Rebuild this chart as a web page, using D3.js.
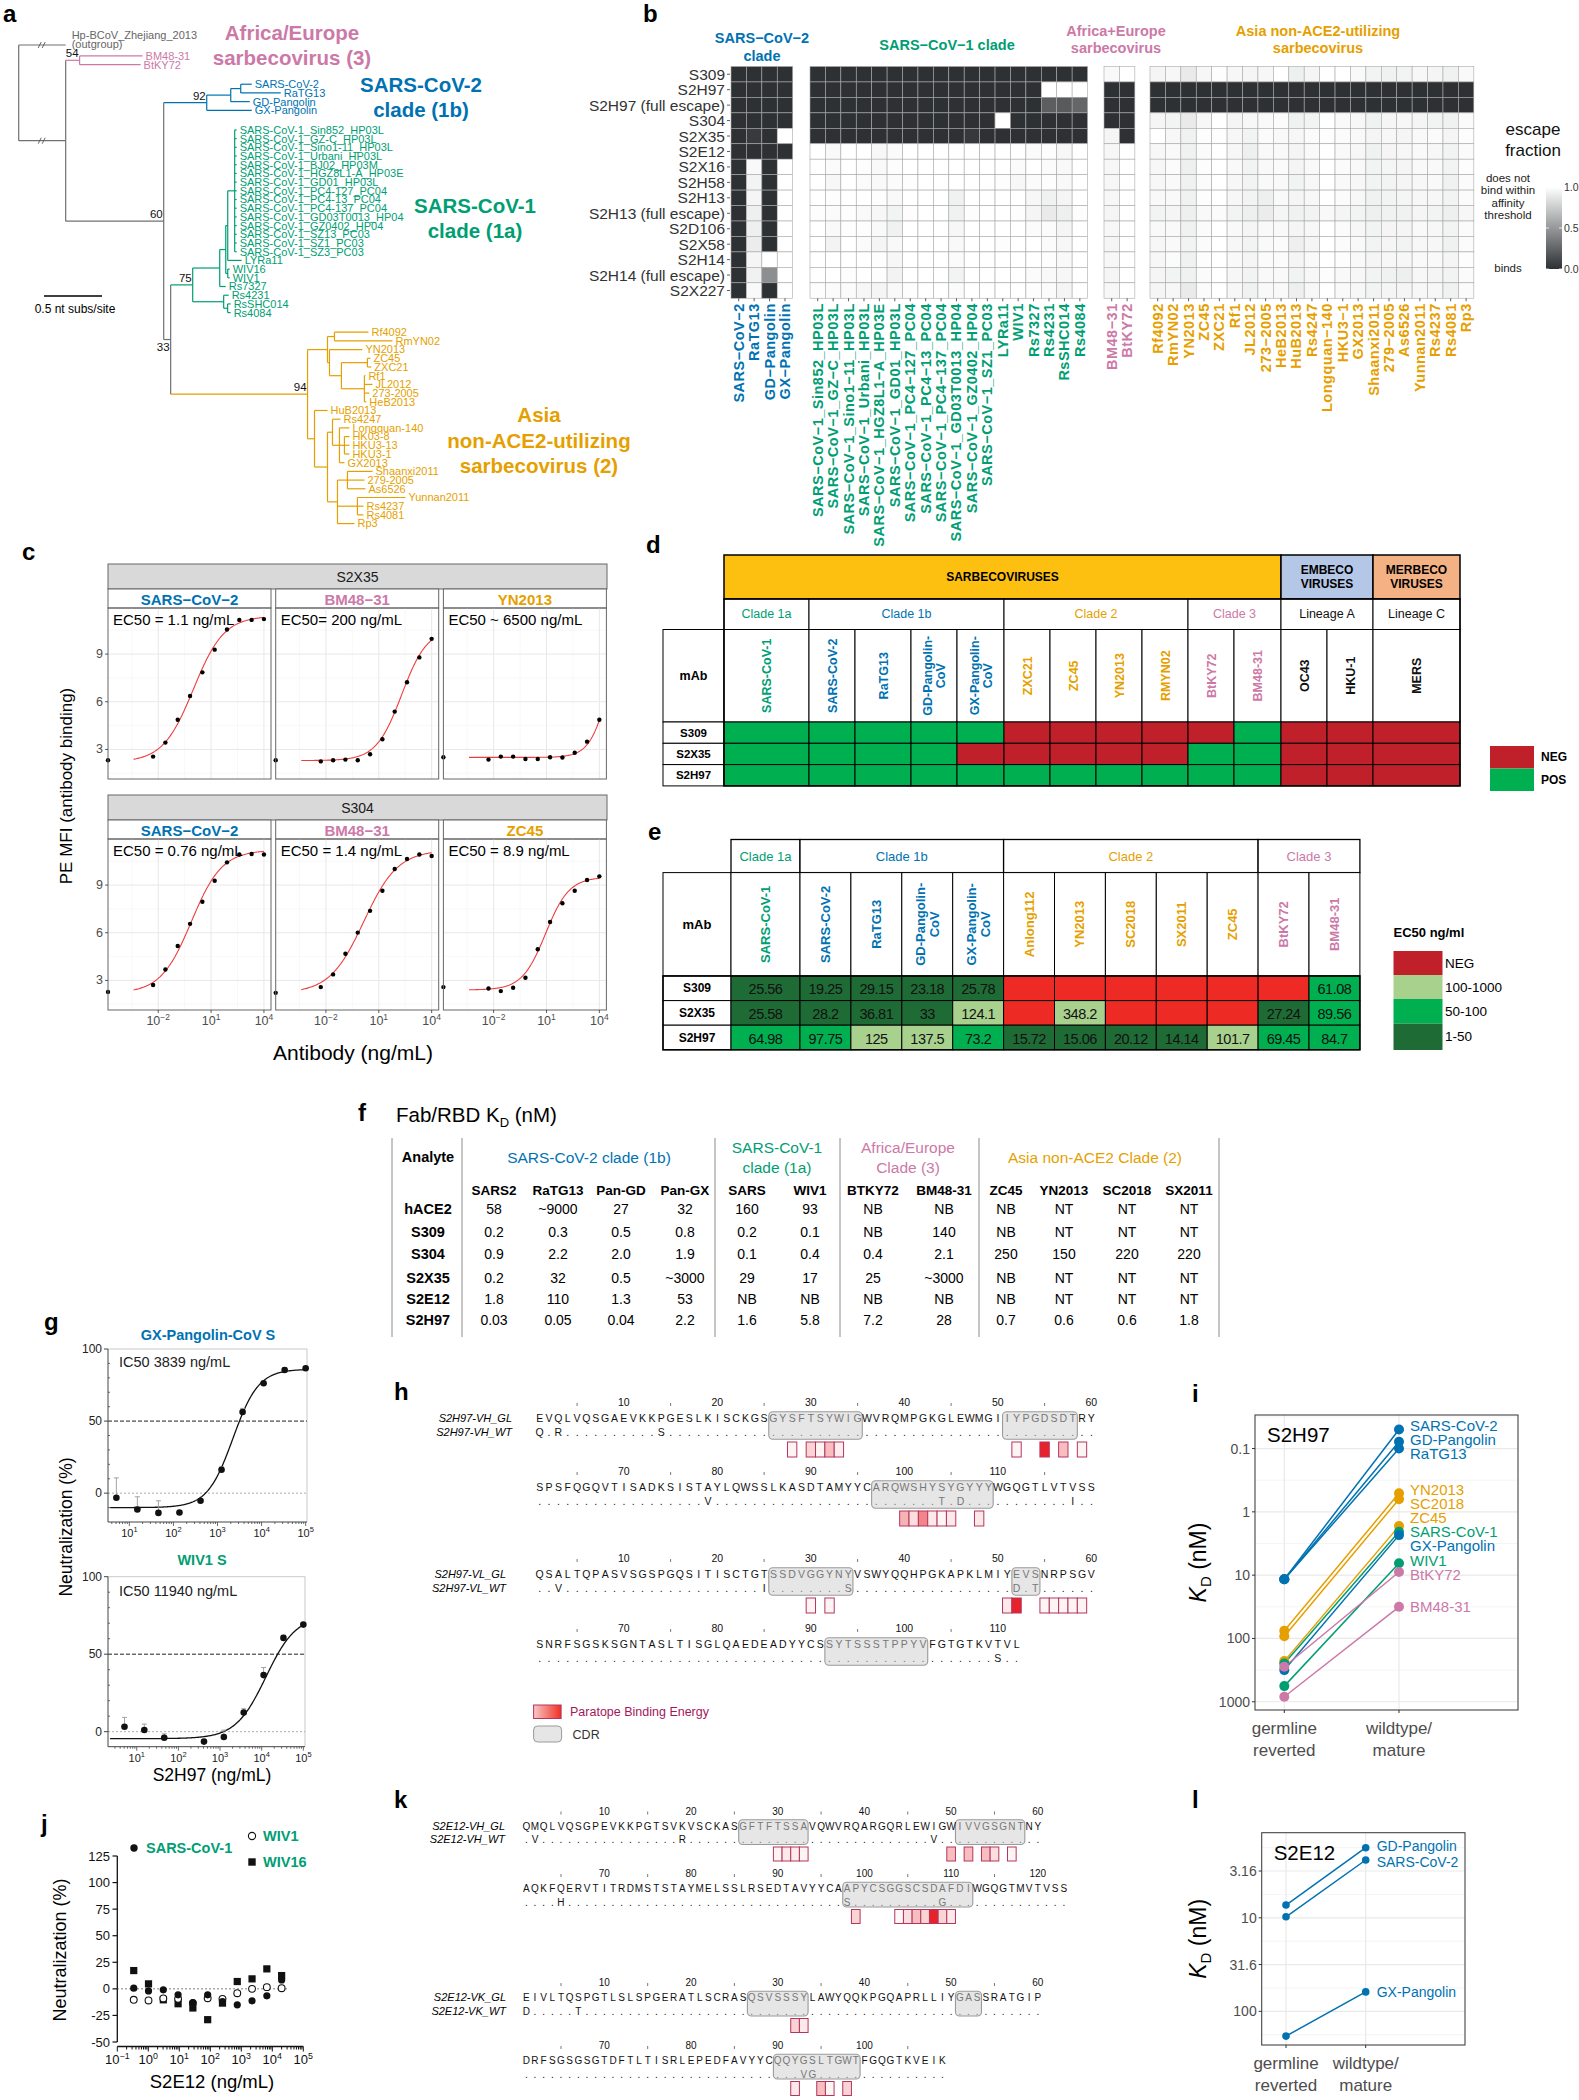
<!DOCTYPE html>
<html><head><meta charset="utf-8"><title>Sarbecovirus figure</title>
<script src="https://cdn.jsdelivr.net/npm/d3@7/dist/d3.min.js"></script>
<style>html,body{margin:0;padding:0;background:#fff}svg{display:block}</style>
</head><body>
<script>
// ======================= DATA =======================
// ---- a: phylogeny (branch lengths in nt subs/site, internal labels = bootstrap) ----
const treeNewick =
"(Hp-BCoV_Zhejiang_2013:0.405,((BM48-31:0.543,BtKY72:0.526)54:0.12,(" +
"(((SARS-CoV-2:0.095,RaTG13:0.345):0.086,GD-Pangolin:0.164):0.207,GX-Pangolin:0.388)92:0.371," +
"((((((SARS-CoV-1_Sin852_HP03L:0.017,SARS-CoV-1_GZ-C_HP03L:0.017,SARS-CoV-1_Sino1-11_HP03L:0.017,SARS-CoV-1_Urbani_HP03L:0.017,SARS-CoV-1_BJ02_HP03M:0.017,SARS-CoV-1_HGZ8L1-A_HP03E:0.017,SARS-CoV-1_GD01_HP03L:0.017,SARS-CoV-1_PC4-127_PC04:0.017,SARS-CoV-1_PC4-13_PC04:0.017,SARS-CoV-1_PC4-137_PC04:0.017,SARS-CoV-1_GD03T0013_HP04:0.017,SARS-CoV-1_GZ0402_HP04:0.017,SARS-CoV-1_SZ13_PC03:0.017,SARS-CoV-1_SZ1_PC03:0.017,SARS-CoV-1_SZ3_PC03:0.017):0.06,LYRa11:0.12):0.017,(WIV16:0.017,WIV1:0.017):0.017):0.052,Rs7327:0.052):0.233,(Rs4231:0.043,(RsSHC014:0.026,Rs4084:0.026):0.034):0.267)75:0.19," +
"(((Rf4092:0.293,RmYN02:0.5):0.06,(YN2013:0.284,((ZC45:0.026,ZXC21:0.034):0.224,(Rf1:0.009,JL2012:0.069,273-2005:0.043,HeB2013:0.017):0.198):0.103):0.017):0.172,(HuB2013:0.112,((Rs4247:0.069,(Longquan-140:0.086,(HK03-8:0.043,HKU3-13:0.043,HKU3-1:0.043):0.043,GX2013:0.043):0.06):0.043,((Shaanxi2011:0.216,279-2005:0.147,As6526:0.155):0.086,(Yunnan2011:0.414,Rs4237:0.052,Rs4081:0.052):0.172,Rp3:0.147):0.086):0.112):0.06)94:1.18" +
")33:0.06)60:0.845):0.405);";
const treeOutgroupNote = "(outgroup)";
const treeCladeText = [["Africa/Europe","sarbecovirus (3)"],["SARS-CoV-2","clade (1b)"],["SARS-CoV-1","clade (1a)"],["Asia","non-ACE2-utilizing","sarbecovirus (2)"]];
const treeScaleBar = 0.5;
const treeScaleText = "0.5 nt subs/site";

// ---- b: escape fraction heatmap ----
const bRows = ["S309","S2H97","S2H97 (full escape)","S304","S2X35","S2E12","S2X16","S2H58","S2H13","S2H13 (full escape)","S2D106","S2X58","S2H14","S2H14 (full escape)","S2X227"];
const bHeaders = [["SARS−CoV−2","clade"],["SARS−CoV−1 clade"],["Africa+Europe","sarbecovirus"],["Asia non-ACE2-utilizing","sarbecovirus"]];
const bColsG1 = ["SARS−CoV−2","RaTG13","GD−Pangolin","GX−Pangolin"];
const bColsG2 = ["SARS−CoV−1_Sin852_HP03L","SARS−CoV−1_GZ−C_HP03L","SARS−CoV−1_Sino1−11_HP03L","SARS−CoV−1_Urbani_HP03L","SARS−CoV−1_HGZ8L1−A_HP03E","SARS−CoV−1_GD01_HP03L","SARS−CoV−1_PC4−127_PC04","SARS−CoV−1_PC4−13_PC04","SARS−CoV−1_PC4−137_PC04","SARS−CoV−1_GD03T0013_HP04","SARS−CoV−1_GZ0402_HP04","SARS−CoV−1_SZ1_PC03","LYRa11","WIV1","Rs7327","Rs4231","RsSHC014","Rs4084"];
const bColsG3 = ["BM48−31","BtKY72"];
const bColsG4 = ["Rf4092","RmYN02","YN2013","ZC45","ZXC21","Rf1","JL2012","273−2005","HeB2013","HuB2013","Rs4247","Longquan−140","HKU3−1","GX2013","Shaanxi2011","279−2005","As6526","Yunnan2011","Rs4237","Rs4081","Rp3"];
const bEscG1 = [[0,0,0,0],[0,0,0,0],[0,0,0,0],[0,0,0,0],[0,.05,0,1],[0,0,0,0],[0,.97,0,1],[0,.94,0,1],[0,.95,0,1],[0,.92,0,1],[0,.92,0,1],[0,.91,0,1],[0,.95,1,1],[0,.93,.45,1],[0,.97,0,1]];
const bEscG2 = [
 [0,0,0,0,0,0,0,0,0,0,0,0,0,0,0,0,0,0],
 [0,0,0,0,0,0,0,0,0,0,0,0,0,0,0,1,1,1],
 [0,0,0,0,0,0,0,0,0,0,0,0,0,0,0,.22,.2,.26],
 [0,0,0,0,0,0,0,0,0,0,0,0,1,0,0,0,0,0],
 [0,0,0,0,0,0,0,0,0,0,.04,0,0,0,0,0,0,0],
 [1,.97,1,1,.96,.98,1,1,1,1,1,1,1,1,.98,.99,.96,1],
 [1,.98,1,.99,.97,.99,1,1,1,1,1,1,1,.98,1,.98,.97,1],
 [1,.96,1,.98,.97,.98,.99,1,1,1,1,1,.99,.96,.98,.99,.97,1],
 [1,.99,1,1,.99,.97,1,1,1,.93,1,1,1,1,.96,.93,.95,1],
 [.99,.98,.99,.97,.96,.94,.99,1,1,.93,.99,1,1,.99,.95,.9,.92,.99],
 [1,.97,.99,.99,.97,.93,1,1,1,.96,1,1,1,1,.98,.98,.95,1],
 [1,.94,1,.98,.95,.97,1,1,1,.97,1,1,.99,1,1,.98,.96,1],
 [1,1,1,1,.99,.96,1,1,1,.98,1,1,1,1,1,.99,.97,1],
 [1,1,.99,1,.99,.94,1,1,1,.94,1,1,1,1,.98,.97,.96,1],
 [.99,.98,.98,.96,.95,.97,.99,1,1,.98,1,1,1,1,.99,.98,.95,1]];
const bEscG3 = [[.97,1],[0,0],[0,0],[0,0],[.95,0],[.96,1],[.96,1],[.96,1],[.96,1],[.95,1],[.96,1],[.95,1],[.96,1],[.95,1],[.96,1]];
const bEscG4 = [
 [.95,.96,.9,.96,.99,.96,.95,.96,1,.92,.95,1,1,.97,.94,.93,.94,.96,.95,.93,.97],
 [0,0,0,0,0,0,0,0,0,0,0,0,0,0,0,0,0,0,0,0,0],
 [0,0,0,0,0,0,0,0,0,0,0,0,0,0,0,0,0,0,0,0,0],
 [.95,.94,.9,.96,1,.95,.96,.97,.98,.93,.94,1,.97,.96,.93,.95,.96,.95,.94,.93,.98],
 [1,.96,.93,.99,.99,.96,.94,.98,.97,.96,.98,.99,.98,.97,.95,.96,.95,.97,.98,.95,.99],
 [.96,.97,.93,.98,1,.96,.92,.97,.97,.95,.97,1,.97,.96,.93,.95,.96,.97,.96,.94,.98],
 [.96,.98,.92,.99,1,.97,.94,.97,.98,.95,.97,1,.98,.97,.94,.95,.95,.97,.97,.94,.99],
 [.96,.97,.93,.98,1,.96,.94,.97,.97,.94,.96,1,.97,.96,.94,.94,.95,.96,.97,.93,.98],
 [.97,.97,.93,.99,1,.96,.94,.92,.97,.95,.96,1,.98,.96,.93,.94,.95,.96,.96,.94,.98],
 [.94,.95,.92,.97,.98,.94,.92,.91,.95,.93,.94,.97,.95,.94,.92,.93,.93,.95,.94,.92,.96],
 [.97,.97,.93,.98,1,.97,.95,.97,.97,.95,.96,1,.98,.96,.94,.95,.95,.97,.96,.94,.98],
 [.96,.97,.94,.98,1,.96,.94,.97,.98,.92,.95,1,.98,.97,.94,.95,.94,.96,.96,.93,.98],
 [.96,.98,.93,.99,1,.97,.95,.98,.98,.95,.97,1,.99,.97,.95,.96,.96,.97,.97,.95,.99],
 [.95,.94,.93,.98,1,.96,.94,.97,.97,.94,.96,.99,.97,.96,.94,.93,.92,.96,.95,.94,.98],
 [.95,.96,.9,.98,1,.96,.93,.97,.97,.92,.96,1,.97,.96,.94,.95,.95,.96,.96,.93,.98]];
const bLegendTitle = ["escape","fraction"];
const bLegendTop = ["does not","bind within","affinity","threshold"];
const bLegendBottom = "binds";
const bLegendTicks = [1.0,0.5,0.0];

// ---- c: binding curves (PE MFI) ----
const cFacets = ["S2X35","S304"];
const cViruses = [["SARS−CoV−2","BM48−31","YN2013"],["SARS−CoV−2","BM48−31","ZC45"]];
const cVirusClade = [["1b","3","2"],["1b","3","2"]];
const cEC50Text = [["EC50 = 1.1 ng/mL","EC50= 200 ng/mL","EC50 ~ 6500 ng/mL"],["EC50 = 0.76 ng/mL","EC50 = 1.4 ng/mL","EC50 = 8.9 ng/mL"]];
const cConc = [0.00512,0.0256,0.128,0.64,3.2,16,80,400,2000,10000];
const cMFI = [
 [[2.55,3.43,4.87,6.36,7.85,9.28,10.55,11.15,11.15,11.2],[2.25,2.32,2.36,2.32,2.7,3.64,5.38,7.23,8.79,9.96],[2.36,2.55,2.55,2.4,2.4,2.51,2.49,2.79,3.49,4.87]],
 [[2.71,3.69,5.17,6.56,7.95,9.27,10.43,10.92,10.96,10.92],[2.58,3.38,4.68,6.01,7.38,8.64,10.01,10.64,10.92,10.83],[2.49,2.33,2.54,3.17,4.96,6.68,7.86,8.64,9.32,9.55]]];
const cMFIzero = [[2.32,2.32,2.51],[2.28,2.22,2.58]];
// fitted 4PL: [bottom, top, EC50 (ng/mL), hill]
const cFit = [[[2.2,11.4,1.0,0.5],[2.3,10.6,200,0.6],[2.5,11.2,35000,0.8]],[[2.2,11.2,0.76,0.5],[2.2,11.2,1.4,0.45],[2.4,9.5,8.9,0.65]]];
const cYTicks = [3,6,9];
const cXTicks = [-2,1,4];

// ---- d: binding (POS/NEG) table ----
const dVirus = ["SARS-CoV-1","SARS-CoV-2","RaTG13","GD-Pangolin-|CoV","GX-Pangolin-|CoV","ZXC21","ZC45","YN2013","RMYN02","BtKY72","BM48-31","OC43","HKU-1","MERS"];
const dVirusClade = ["1a","1b","1b","1b","1b","2","2","2","2","3","3","A","A","C"];
const dCladeName = {"1a":"Clade 1a","1b":"Clade 1b","2":"Clade 2","3":"Clade 3","A":"Lineage A","C":"Lineage C"};
const dGenus = ["SARBECOVIRUSES","EMBECO|VIRUSES","MERBECO|VIRUSES"];
const dGenusCount = [11,2,1];
const dMabs = ["S309","S2X35","S2H97"];
const dResult = ["+++++-----+---","++++-----++---","+++++++++++---"];

// ---- e: EC50 table ----
const eVirus = ["SARS-CoV-1","SARS-CoV-2","RaTG13","GD-Pangolin-|CoV","GX-Pangolin-|CoV","Anlong112","YN2013","SC2018","SX2011","ZC45","BtKY72","BM48-31"];
const eVirusClade = ["1a","1b","1b","1b","1b","2","2","2","2","2","3","3"];
const eMabs = ["S309","S2X35","S2H97"];
const eEC50 = [
 ["25.56","19.25","29.15","23.18","25.78",null,null,null,null,null,null,"61.08"],
 ["25.58","28.2","36.81","33","124.1",null,"348.2",null,null,null,"27.24","89.56"],
 ["64.98","97.75","125","137.5","73.2","15.72","15.06","20.12","14.14","101.7","69.45","84.7"]];
const eLegend = ["NEG","100-1000","50-100","1-50"];

// ---- f: KD table ----
const fTitle = "Fab/RBD K";
const fGroups = [["SARS-CoV-2 clade (1b)"],["SARS-CoV-1","clade (1a)"],["Africa/Europe","Clade (3)"],["Asia non-ACE2 Clade (2)"]];
const fCols = ["SARS2","RaTG13","Pan-GD","Pan-GX","SARS","WIV1","BTKY72","BM48-31","ZC45","YN2013","SC2018","SX2011"];
const fRows = ["hACE2","S309","S304","S2X35","S2E12","S2H97"];
const fKD = [
 ["58","~9000","27","32","160","93","NB","NB","NB","NT","NT","NT"],
 ["0.2","0.3","0.5","0.8","0.2","0.1","NB","140","NB","NT","NT","NT"],
 ["0.9","2.2","2.0","1.9","0.1","0.4","0.4","2.1","250","150","220","220"],
 ["0.2","32","0.5","~3000","29","17","25","~3000","NB","NT","NT","NT"],
 ["1.8","110","1.3","53","NB","NB","NB","NB","NB","NT","NT","NT"],
 ["0.03","0.05","0.04","2.2","1.6","5.8","7.2","28","0.7","0.6","0.6","1.8"]];

// ---- g: S2H97 neutralization ----
const gTitles = ["GX-Pangolin-CoV S","WIV1 S"];
const gIC50Text = ["IC50 3839 ng/mL","IC50 11940 ng/mL"];
const gConc = [5.08,15.2,45.7,137,412,1235,3704,11111,33333,100000];
const gNeutGX = [-3.2,-11.3,-13.7,-13.4,-5.3,16.2,56.3,76.2,85.4,86.6];
const gSdGX = [13.8,8.8,8.4,0,1,2.1,2.5,1,1.6,0];
const gNeutWIV1 = [3.2,1.1,-3.9,null,-6.4,-3.4,12.4,36.5,60.5,69.1];
const gSdWIV1 = [6,3.8,2.5,0,0,4.4,2.4,4.9,1.7,0];
// fitted curve: [bottom, top, midpoint (ng/mL), hill]
const gFit = [[-10,86,2240,1.5],[-4.5,75,12600,1.2]];

// ---- h / k: sequence alignments ----
const hNames = [["S2H97-VH_GL","S2H97-VH_WT"],null,["S2H97-VL_GL","S2H97-VL_WT"],null];
const hStart = [1,61,1,61];
const hGL = ["EVQLVQSGAEVKKPGESLKISCKGSGYSFTSYWIGWVRQMPGKGLEWMGIIYPGDSDTRY","SPSFQGQVTISADKSISTAYLQWSSLKASDTAMYYCARQWSHYSYGYYYWGQGTLVTVSS","QSALTQPASVSGSPGQSITISCTGTSSDVGGYNYVSWYQQHPGKAPKLMIYEVSNRPSGV","SNRFSGSKSGNTASLTISGLQAEDEADYYCSSYTSSSTPPYVFGTGTKVTVL"];
const hMut = [[[1,"Q"],[3,"R"],[14,"S"]],[[79,"V"],[104,"T"],[106,"D"],[118,"I"]],[[3,"V"],[25,"I"],[34,"S"],[52,"D"],[54,"T"]],[[110,"S"]]];
const hCDR = [[[26,35],[51,58]],[[97,109]],[[26,34],[52,54]],[[92,102]]];
const hPara = [[[28,.06],[30,.2],[31,.05],[32,.3],[33,.08],[52,.05],[55,1],[57,.3],[59,.05]],[[100,.35],[101,.15],[102,.55],[103,.1],[104,.04],[105,.1],[108,.1]],[[30,.05],[32,.05],[51,.1],[52,1],[55,.05],[56,.05],[57,.05],[58,.05],[59,.05]],[]];
const hTicks = [[10,20,30,40,50,60],[70,80,90,100,110],[10,20,30,40,50,60],[70,80,90,100,110]];
const hLegend = ["Paratope Binding Energy","CDR"];
const kNames = [["S2E12-VH_GL","S2E12-VH_WT"],null,["S2E12-VK_GL","S2E12-VK_WT"],null];
const kStart = [1,61,1,61];
const kGL = ["QMQLVQSGPEVKKPGTSVKVSCKASGFTFTSSAVQWVRQARGQRLEWIGWIVVGSGNTNY","AQKFQERVTITRDMSTSTAYMELSSLRSEDTAVYYCAAPYCSGGSCSDAFDIWGQGTMVTVSS","EIVLTQSPGTLSLSPGERATLSCRASQSVSSSYLAWYQQKPGQAPRLLIYGASSRATGIP","DRFSGSGSGTDFTLTISRLEPEDFAVYYCQQYGSLTGWTFGQGTKVEIK"];
const kMut = [[[2,"V"],[19,"R"],[48,"V"]],[[65,"H"],[98,"S"],[109,"G"]],[[1,"D"],[7,"T"]],[[93,"V"],[94,"G"]]];
const kCDR = [[[26,33],[51,58]],[[98,112]],[[27,33],[51,53]],[[90,99]]];
const kPara = [[[30,.05],[31,.1],[32,.08],[33,.05],[50,.3],[52,.3],[54,.3],[55,.15],[57,.05]],[[99,.2],[104,.03],[105,.15],[106,.3],[107,.2],[108,1],[109,.2],[110,.1]],[[32,.2],[33,.1]],[[92,.1],[95,.3],[96,.05],[98,.2]]];
const kTicks = [[10,20,30,40,50,60],[70,80,90,100,110,120],[10,20,30,40,50,60],[70,80,90,100]];

// ---- i: S2H97 KD germline vs mature ----
const iTitle = "S2H97";
const iStages = ["germline|reverted","wildtype/|mature"];
const iVirus = ["SARS-CoV-2","GD-Pangolin","RaTG13","YN2013","SC2018","ZC45","SARS-CoV-1","GX-Pangolin","WIV1","BtKY72","BM48-31"];
const iVirusClade = ["1b","1b","1b","2","2","2","1a","1b","1a","3","3"];
const iKDgl = [11.6,11.6,11.6,75.7,92,228,248,316,566,280,834];
const iKDwt = [0.05,0.078,0.1,0.51,0.63,1.68,2.07,2.33,6.5,8.9,31.6];
const iTicks = [0.1,1,10,100,1000];

// ---- j: S2E12 neutralization ----
const jConc = [0.339,1.016,3.05,9.14,27.4,82.3,247,741,2222,6667,20000];
const jSARS1 = [0.6,-1.9,-0.9,-5.6,-13,-5.6,-11.9,-15,-11.3,-6.6,8.4];
const jWIV1 = [-10.3,-10.9,-9,-9.4,-13.4,-8.8,-9.4,-4.1,0,1.6,0.6];
const jWIV16 = [17.2,4.7,-10.3,-14,-18,-29,-13.4,6.9,9.4,18.8,12.5];
const jSeries = ["SARS-CoV-1","WIV1","WIV16"];
const jYTicks = [-50,-25,0,25,50,75,100,125];
const jXTicks = [-1,0,1,2,3,4,5];

// ---- l: S2E12 KD germline vs mature ----
const lTitle = "S2E12";
const lVirus = ["GD-Pangolin","SARS-CoV-2","GX-Pangolin"];
const lVirusClade = ["1b","1b","1b"];
const lKDgl = [7.3,9.75,184];
const lKDwt = [1.78,2.41,62];
const lTicks = [3.16,10,31.6,100];

// ======================= DRAWING =======================
const W = 1579, H = 2100;
const SANS = "'Liberation Sans',Arial,Helvetica,sans-serif";
const BLUE = "#0072B2", GREEN = "#009E73", PINK = "#CC79A7", ORANGE = "#E69F00", TGRAY = "#707070";
const CLADECOL = {"1a":GREEN,"1b":BLUE,"2":ORANGE,"3":PINK,"A":"#111","C":"#111"};
const svg = d3.select("body").append("svg").attr("width",W).attr("height",H).attr("viewBox",`0 0 ${W} ${H}`);
svg.append("rect").attr("width",W).attr("height",H).attr("fill","#fff");
const defs = svg.append("defs");

function T(g,x,y,s,o){o=o||{};const t=g.append("text").attr("x",x).attr("y",y).attr("font-family",o.ff||SANS).attr("font-size",o.fs||12).attr("fill",o.fill||"#000").attr("text-anchor",o.anchor||"start").text(s);
 if(o.fw)t.attr("font-weight",o.fw); if(o.it)t.attr("font-style","italic"); if(o.db)t.attr("dominant-baseline",o.db);
 if(o.rot!=null)t.attr("transform",`rotate(${o.rot},${x},${y})`); if(o.ls!=null)t.attr("letter-spacing",o.ls); return t;}
function L(g,x1,y1,x2,y2,st,sw,da){const l=g.append("line").attr("x1",x1).attr("y1",y1).attr("x2",x2).attr("y2",y2).attr("stroke",st||"#000").attr("stroke-width",sw||1); if(da)l.attr("stroke-dasharray",da); return l;}
function R(g,x,y,w,h,fill,st,sw){const r=g.append("rect").attr("x",x).attr("y",y).attr("width",w).attr("height",h).attr("fill",fill||"none"); if(st)r.attr("stroke",st).attr("stroke-width",sw||1); return r;}
function P10(g,x,y,e,fs,o){o=o||{};const t=g.append("text").attr("x",x).attr("y",y).attr("font-family",SANS).attr("font-size",fs).attr("fill",o.fill||"#000").attr("text-anchor",o.anchor||"middle");
 t.append("tspan").text("10"); t.append("tspan").attr("dy",-fs*0.42).attr("font-size",fs*0.68).text(e); return t;}
function fit4(p,x){return p[0]+(p[1]-p[0])/(1+Math.pow(p[2]/x,p[3]));}

// panel letters
const panelLetters = ["a","b","c","d","e","f","g","h","i","j","k","l"];
const panelXY = [[3,22],[643,22],[22,560],[646,553],[648,840],[358,1121],[44,1330],[394,1400],[1192,1402],[41,1832],[394,1808],[1192,1808]];
panelLetters.forEach((p,i)=>T(svg,panelXY[i][0],panelXY[i][1],p,{fs:24,fw:"bold"}));

// ---------------- a: tree ----------------
(function(){
 const g = svg.append("g");
 function parseNewick(s){let i=0;
  function node(){const n={children:[]};
   if(s[i]==="("){i++; n.children.push(node()); while(s[i]===","){i++; n.children.push(node());} i++;}
   let name=""; while(i<s.length && ",():;".indexOf(s[i])<0) name+=s[i++];
   n.name=name; n.len=0;
   if(s[i]===":"){i++; let num=""; while(i<s.length && ",();".indexOf(s[i])<0) num+=s[i++]; n.len=+num;}
   if(!n.children.length) delete n.children; return n;}
  return node();}
 const root = d3.hierarchy(parseNewick(treeNewick));
 const tx = d3.scaleLinear().domain([0,treeScaleBar]).range([18.7,18.7+58]);
 root.each(d=>{d.dist = d.parent ? d.parent.dist + d.data.len : 0; d.px = tx(d.dist);});
 const cladeOf = {"54":PINK,"92":BLUE,"75":GREEN,"94":ORANGE};
 root.eachBefore(d=>{d.col = cladeOf[d.data.name] || (d.parent ? d.parent.col : TGRAY);});
 const leaves = root.leaves();
 let yy = 45, prev = null;
 leaves.forEach(l=>{ if(prev) yy += 8.7*(l.col===prev.col ? 1 : (prev.col===TGRAY ? 1.26 : 2.25)); l.py = yy; prev = l; });
 root.eachAfter(d=>{ if(d.children) d.py = (d.children[0].py + d.children[d.children.length-1].py)/2; });
 root.descendants().forEach(d=>{
  if(d.parent) L(g,d.parent.px,d.py,d.px,d.py,d.col,1.2);
  if(d.children) L(g,d.px,d.children[0].py,d.px,d.children[d.children.length-1].py,d.col,1.2);
 });
 root.children.forEach(c=>{ const mx=(root.px+c.px)/2; [-2.5,1.5].forEach(o=>L(g,mx+o-1.5,c.py+3,mx+o+1.5,c.py-3,"#555",0.9)); });
 root.descendants().forEach(d=>{ if(d.children && d.parent && d.data.name){
   const short = (d.px - d.parent.px) < 10;
   T(g,d.px-1,short ? d.py+11 : d.py-3,d.data.name,{fs:11.5,anchor:"end",fill:"#111"}); }});
 leaves.forEach((l,i)=>{
  if(i===0){ T(g,l.px+6,l.py-6.5,l.data.name,{fs:11,fill:"#666"}); T(g,l.px+6,l.py+3,treeOutgroupNote,{fs:11,fill:"#666"}); }
  else T(g,l.px+3,l.py+3.9,l.data.name,{fs:11,fill:l.col});
 });
 const cpos = [[292,40,25,PINK],[421,92,25,BLUE],[475,213,25,GREEN],[539,422,25.5,ORANGE]];
 treeCladeText.forEach((lines,k)=>lines.forEach((s,j)=>T(g,cpos[k][0],cpos[k][1]+j*cpos[k][2],s,{fs:20.5,fw:"bold",fill:cpos[k][3],anchor:"middle"})));
 L(g,tx(0)+25.3,296,tx(treeScaleBar)+25.3,296,"#000",1.3);
 T(g,75,313,treeScaleText,{fs:12,anchor:"middle"});
})();

// ---------------- b: heatmap ----------------
(function(){
 const g = svg.append("g");
 const cols = [bColsG1,bColsG2,bColsG3,bColsG4], vals = [bEscG1,bEscG2,bEscG3,bEscG4];
 const gcol = [BLUE,GREEN,PINK,ORANGE];
 const gx = [731,810,1104,1150], cw = 15.42, y0 = 66.5, ch = 15.45;
 const col = d3.scaleLinear().domain([0,1]).range(["#2e3133","#ffffff"]);
 cols.forEach((cs,k)=>{
  cs.forEach((c,j)=>{
   const x = gx[k]+j*cw;
   bRows.forEach((r,i)=>R(g,x,y0+i*ch,cw,ch,col(vals[k][i][j]),"#a9a9a9",0.6));
   L(g,x+cw/2,y0+bRows.length*ch,x+cw/2,y0+bRows.length*ch+3,"#333",0.8);
   T(g,x+cw/2,y0+bRows.length*ch+5,c,{fs:14.5,fw:"bold",fill:gcol[k],anchor:"end",db:"central",rot:-90,ls:0.5});
  });
 });
 bRows.forEach((r,i)=>{ L(g,727,y0+(i+.5)*ch,730,y0+(i+.5)*ch,"#333",0.8); T(g,725,y0+(i+.5)*ch,r,{fs:15.5,fill:"#333",anchor:"end",db:"central"}); });
 const hx = [762,947,1116,1318], hy = [[43,61],[50],[36,53],[36,53]];
 bHeaders.forEach((lines,k)=>lines.forEach((s,j)=>T(g,hx[k],hy[k][j],s,{fs:14.5,fw:"bold",fill:gcol[k],anchor:"middle"})));
 bLegendTitle.forEach((s,j)=>T(g,1533,135+j*21,s,{fs:17,anchor:"middle",fill:"#111"}));
 bLegendTop.forEach((s,j)=>T(g,1508,182+j*12.3,s,{fs:11.5,anchor:"middle",fill:"#222"}));
 T(g,1508,272,bLegendBottom,{fs:11.5,anchor:"middle",fill:"#222"});
 const lg = defs.append("linearGradient").attr("id","escgrad").attr("x1",0).attr("y1",0).attr("x2",0).attr("y2",1);
 lg.append("stop").attr("offset","0%").attr("stop-color",col(1));
 lg.append("stop").attr("offset","100%").attr("stop-color",col(0));
 const ly = d3.scaleLinear().domain([0,1]).range([269,187]);
 R(g,1546,187,16,82,"url(#escgrad)");
 bLegendTicks.forEach(v=>{ L(g,1546,ly(v),1549,ly(v),"#fff",0.8); L(g,1559,ly(v),1562,ly(v),"#fff",0.8); T(g,1564,ly(v),v.toFixed(1),{fs:10.5,db:"central",fill:"#333"}); });
})();

// ---------------- c: binding curves ----------------
(function(){
 const g = svg.append("g");
 const colX = [108,275.7,443.4], pw = 163, tops = [564,795];
 const red = "#f03c3c";
 cFacets.forEach((fname,f)=>{
  const top = tops[f];
  R(g,108,top,499,25,"#d9d9d9","#666",1);
  T(g,357.5,top+13,fname,{fs:14,anchor:"middle",db:"central",fill:"#1a1a1a"});
  const py0 = top+44, py1 = py0+171;
  const y = d3.scaleLinear().domain([1.14,11.9]).range([py1,py0]);
  colX.forEach((px,p)=>{
   R(g,px,top+25,pw,19,"#fff","#666",1);
   T(g,px+pw/2,top+35,cViruses[f][p],{fs:15,fw:"bold",anchor:"middle",db:"central",fill:CLADECOL[cVirusClade[f][p]]});
   const x = d3.scaleLog().domain([Math.pow(10,-4.85),Math.pow(10,4.4)]).range([px,px+pw]);
   [-3.5,-0.5,2.5].forEach(e=>L(g,x(Math.pow(10,e)),py0,x(Math.pow(10,e)),py1,"#f3f3f3",0.6));
   [1.5,4.5,7.5,10.5].forEach(v=>L(g,px,y(v),px+pw,y(v),"#f3f3f3",0.6));
   cXTicks.forEach(e=>L(g,x(Math.pow(10,e)),py0,x(Math.pow(10,e)),py1,"#e8e8e8",1));
   cYTicks.forEach(v=>L(g,px,y(v),px+pw,y(v),"#e8e8e8",1));
   const pts = d3.range(-3.4,4.001,0.05).map(e=>[x(Math.pow(10,e)),y(fit4(cFit[f][p],Math.pow(10,e)))]);
   g.append("path").attr("d",d3.line()(pts)).attr("fill","none").attr("stroke",red).attr("stroke-width",1.1);
   cConc.forEach((c,k)=>g.append("circle").attr("cx",x(c)).attr("cy",y(cMFI[f][p][k])).attr("r",2.2).attr("fill","#000"));
   g.append("circle").attr("cx",px).attr("cy",y(cMFIzero[f][p])).attr("r",2.2).attr("fill","#000");
   R(g,px,py0,pw,171,"none","#666",1);
   T(g,px+5,py0+17,cEC50Text[f][p],{fs:15,fill:"#000"});
   if(p===0) cYTicks.forEach(v=>{ L(g,px-3,y(v),px,y(v),"#333",0.8); T(g,px-5,y(v),String(v),{fs:12.5,anchor:"end",db:"central",fill:"#4d4d4d"}); });
   if(f===1) cXTicks.forEach(e=>{ L(g,x(Math.pow(10,e)),py1,x(Math.pow(10,e)),py1+3,"#333",0.8); P10(g,x(Math.pow(10,e)),py1+15,e<0?"−"+(-e):String(e),12.5,{fill:"#4d4d4d"}); });
  });
 });
 T(g,72,786,"PE MFI (antibody binding)",{fs:17,anchor:"middle",rot:-90});
 T(g,353,1060,"Antibody (ng/mL)",{fs:21,anchor:"middle"});
})();

// ---------------- d: POS/NEG table ----------------
(function(){
 const g = svg.append("g");
 const widths = [85,46,56,46,47,46,46,46,46,46,47,46,46,87];
 const xs = [724]; widths.forEach(w=>xs.push(xs[xs.length-1]+w));
 const yG = [555,599], yC = [599,629.5], yN = [629.5,722], r0 = 722, rh = 21.3;
 const genusFill = ["#FDC010","#B4C7E7","#F4B183"];
 let ci = 0;
 dGenus.forEach((gname,k)=>{
  const a = xs[ci], b = xs[ci+dGenusCount[k]]; ci += dGenusCount[k];
  R(g,a,yG[0],b-a,yG[1]-yG[0],genusFill[k],"#000",1.5);
  const lines = gname.split("|");
  lines.forEach((s,j)=>T(g,(a+b)/2,(yG[0]+yG[1])/2+(j-(lines.length-1)/2)*14,s,{fs:12,fw:"bold",anchor:"middle",db:"central"}));
 });
 let s = 0;
 for(let i=1;i<=dVirusClade.length;i++){
  if(i===dVirusClade.length || dVirusClade[i]!==dVirusClade[s]){
   R(g,xs[s],yC[0],xs[i]-xs[s],yC[1]-yC[0],"#fff","#000",1);
   T(g,(xs[s]+xs[i])/2,(yC[0]+yC[1])/2,dCladeName[dVirusClade[s]],{fs:12.5,anchor:"middle",db:"central",fill:CLADECOL[dVirusClade[s]]});
   s = i;
  }
 }
 R(g,663,yN[0],61,yN[1]-yN[0],"#fff","#000",1);
 T(g,693.5,(yN[0]+yN[1])/2,"mAb",{fs:12.5,fw:"bold",anchor:"middle",db:"central"});
 dVirus.forEach((v,i)=>{
  R(g,xs[i],yN[0],widths[i],yN[1]-yN[0],"#fff","#000",1);
  const cx = (xs[i]+xs[i+1])/2, cy = (yN[0]+yN[1])/2;
  const lines = v.split("|");
  const t = g.append("text").attr("transform",`translate(${cx},${cy}) rotate(-90)`).attr("font-family",SANS).attr("font-size",12.5).attr("font-weight","bold").attr("fill",CLADECOL[dVirusClade[i]]).attr("text-anchor","middle");
  lines.forEach((ln,j)=>t.append("tspan").attr("x",0).attr("y",(j-(lines.length-1)/2)*13+4.5).text(ln));
 });
 dMabs.forEach((m,r)=>{
  const y = r0+r*rh;
  R(g,663,y,61,rh,"#fff","#000",1);
  T(g,693.5,y+rh/2,m,{fs:11.5,fw:"bold",anchor:"middle",db:"central"});
  [...dResult[r]].forEach((c,i)=>R(g,xs[i],y,widths[i],rh,c==="+"?"#00B050":"#C0202A","#000",1));
 });
 R(g,724,yC[0],xs[xs.length-1]-724,r0+3*rh-yC[0],"none","#000",1.5);
 R(g,1490,746,44,22.5,"#C0202A"); R(g,1490,768.5,44,22.5,"#00B050");
 T(g,1541,757,"NEG",{fs:12,fw:"bold",db:"central"}); T(g,1541,780,"POS",{fs:12,fw:"bold",db:"central"});
})();

// ---------------- e: EC50 table ----------------
(function(){
 const g = svg.append("g");
 const widths = [69].concat(d3.range(11).map(()=>50.9));
 const xs = [731]; widths.forEach(w=>xs.push(xs[xs.length-1]+w));
 const yC = [839.5,872.6], yN = [872.6,976], r0 = 976, rh = 24.6;
 const ecol = v=> v===null ? "#EE2A24" : (+v<50 ? "#1F6B35" : (+v<100 ? "#00B050" : "#A9D18E"));
 let s = 0;
 for(let i=1;i<=eVirusClade.length;i++){
  if(i===eVirusClade.length || eVirusClade[i]!==eVirusClade[s]){
   R(g,xs[s],yC[0],xs[i]-xs[s],yC[1]-yC[0],"#fff","#000",1.3);
   T(g,(xs[s]+xs[i])/2,(yC[0]+yC[1])/2,dCladeName[eVirusClade[s]],{fs:13,anchor:"middle",db:"central",fill:CLADECOL[eVirusClade[s]]});
   s = i;
  }
 }
 R(g,663,yN[0],68,yN[1]-yN[0],"#fff","#000",1);
 T(g,697,(yN[0]+yN[1])/2,"mAb",{fs:13,fw:"bold",anchor:"middle",db:"central"});
 eVirus.forEach((v,i)=>{
  R(g,xs[i],yN[0],widths[i],yN[1]-yN[0],"#fff","#000",1);
  const cx = (xs[i]+xs[i+1])/2, cy = (yN[0]+yN[1])/2;
  const lines = v.split("|");
  const t = g.append("text").attr("transform",`translate(${cx},${cy}) rotate(-90)`).attr("font-family",SANS).attr("font-size",13).attr("font-weight","bold").attr("fill",CLADECOL[eVirusClade[i]]).attr("text-anchor","middle");
  lines.forEach((ln,j)=>t.append("tspan").attr("x",0).attr("y",(j-(lines.length-1)/2)*14+4.5).text(ln));
 });
 eMabs.forEach((m,r)=>{
  const y = r0+r*rh;
  R(g,663,y,68,rh,"#fff","#000",1);
  T(g,697,y+rh/2,m,{fs:12,fw:"bold",anchor:"middle",db:"central"});
  eEC50[r].forEach((v,i)=>{
   R(g,xs[i],y,widths[i],rh,ecol(v),"#000",1);
   if(v!==null) T(g,(xs[i]+xs[i+1])/2,y+rh/2+1,v,{fs:14.5,anchor:"middle",db:"central",fill:"#111",ls:-0.5});
  });
 });
 R(g,663,r0,xs[xs.length-1]-663,3*rh,"none","#000",1.5);
 T(g,1393.5,937,"EC50  ng/ml",{fs:13,fw:"bold"});
 const lc = ["#C0202A","#A9D18E","#00B050","#1F6B35"], ly = [951,975,999,1023.6,1050];
 eLegend.forEach((s2,k)=>{ R(g,1393.5,ly[k],49,ly[k+1]-ly[k],lc[k]); T(g,1445,(ly[k]+ly[k+1])/2,s2,{fs:13.5,db:"central"}); });
})();

// ---------------- f: KD table ----------------
(function(){
 const g = svg.append("g");
 const t = g.append("text").attr("x",396).attr("y",1122).attr("font-family",SANS).attr("font-size",20.5);
 t.append("tspan").text(fTitle); t.append("tspan").attr("dy",5).attr("font-size",13).text("D"); t.append("tspan").attr("dy",-5).text(" (nM)");
 [392,462,715,840,979,1219].forEach(x=>L(g,x,1138,x,1337,"#8c8c8c",1));
 const gcx = [589,777,908,1095], gcol = [BLUE,GREEN,PINK,ORANGE];
 fGroups.forEach((lines,k)=>lines.forEach((s,j)=>T(g,gcx[k],(lines.length===1?1157:1147+j*20),s,{fs:15.5,anchor:"middle",db:"central",fill:gcol[k]})));
 T(g,428,1157,"Analyte",{fs:14.5,fw:"bold",anchor:"middle",db:"central"});
 const colX = [494,558,621,685,747,810,873,944,1006,1064,1127,1189];
 const rowY = [1209,1232,1254,1278,1299,1320];
 fCols.forEach((c,i)=>T(g,colX[i],1190,c,{fs:13.5,fw:"bold",anchor:"middle",db:"central"}));
 fRows.forEach((r,j)=>{
  T(g,428,rowY[j],r,{fs:14.5,fw:"bold",anchor:"middle",db:"central"});
  fKD[j].forEach((v,i)=>T(g,colX[i],rowY[j],v,{fs:14,anchor:"middle",db:"central"}));
 });
})();

// ---------------- g: S2H97 neutralization ----------------
(function(){
 const g = svg.append("g");
 const plots = [
  {x0:108,x1:307,y0:1349,y1:1522,yd:[-20,100],xd:[0.516,5.03],title:[208,1340],ic:[119,1367],lab:1537},
  {x0:108,x1:305,y0:1576.7,y1:1746.7,yd:[-9.7,100],xd:[0.31,5.04],title:[202,1565],ic:[119,1596],lab:1762}];
 const series = [[gNeutGX,gSdGX],[gNeutWIV1,gSdWIV1]];
 const tcol = [BLUE,GREEN];
 plots.forEach((o,k)=>{
  const x = d3.scaleLog().domain([Math.pow(10,o.xd[0]),Math.pow(10,o.xd[1])]).range([o.x0,o.x1]);
  const y = d3.scaleLinear().domain(o.yd).range([o.y1,o.y0]);
  L(g,o.x0,o.y0,o.x1,o.y0,"#bbb",0.8); L(g,o.x1,o.y0,o.x1,o.y1,"#bbb",0.8);
  L(g,o.x0,y(0),o.x1,y(0),"#999",0.8,"2,2");
  L(g,o.x0,y(50),o.x1,y(50),"#222",1,"4,2");
  L(g,o.x0,o.y0,o.x0,o.y1,"#444",1); L(g,o.x0,o.y1,o.x1,o.y1,"#444",1);
  d3.range(-10,101,10).filter(v=>v>=o.yd[0]).forEach(v=>L(g,o.x0,y(v),o.x0+(v%50===0?0:2),y(v),"#444",0.8));
  [0,50,100].forEach(v=>{ L(g,o.x0-4,y(v),o.x0,y(v),"#444",1); T(g,o.x0-6,y(v),String(v),{fs:12,anchor:"end",db:"central",fill:"#222"}); });
  for(let e=0;e<=5;e++){ for(let m=1;m<10;m++){ const v=m*Math.pow(10,e); if(v<x.domain()[0]||v>x.domain()[1]) continue;
    L(g,x(v),o.y1,x(v),o.y1+(m===1?4:2),"#444",0.8); } }
  [1,2,3,4,5].forEach(e=>P10(g,x(Math.pow(10,e)),o.lab,String(e),11,{fill:"#222"}));
  const pts = d3.range(o.xd[0]+0.05,o.xd[1]-0.01,0.02).map(e=>[x(Math.pow(10,e)),y(fit4(gFit[k],Math.pow(10,e)))]);
  g.append("path").attr("d",d3.line()(pts)).attr("fill","none").attr("stroke","#111").attr("stroke-width",1.3);
  gConc.forEach((c,i)=>{ const v=series[k][0][i]; if(v===null) return; const sd=series[k][1][i];
   if(sd>0){ L(g,x(c),y(v),x(c),y(v+sd),"#999",0.9); L(g,x(c)-2.5,y(v+sd),x(c)+2.5,y(v+sd),"#999",0.9); }
   g.append("circle").attr("cx",x(c)).attr("cy",y(v)).attr("r",3.3).attr("fill","#111"); });
  T(g,o.title[0],o.title[1],gTitles[k],{fs:14.5,fw:"bold",anchor:"middle",fill:tcol[k]});
  T(g,o.ic[0],o.ic[1],gIC50Text[k],{fs:14.5,fill:"#222"});
 });
 T(g,72,1527,"Neutralization (%)",{fs:17.5,anchor:"middle",rot:-90});
 T(g,212,1781,"S2H97 (ng/mL)",{fs:17.5,anchor:"middle"});
})();

// ---------------- h / k: sequences ----------------
const paraCol = d3.scaleLinear().domain([0,1]).range(["#ffffff","#e8222a"]);
function drawSeq(o){
 const g = svg.append("g");
 o.gl.forEach((seq,li)=>{
  const y = o.baseY[li], st = o.start[li];
  const X = p=>o.x0+(p-st)*o.step;
  o.cdr[li].forEach(([a,b])=>g.append("rect").attr("x",X(a)-o.step/2).attr("y",y-o.cdrTop).attr("width",(b-a+1)*o.step).attr("height",o.cdrH).attr("rx",4).attr("fill","#e6e6e6").attr("stroke","#9a9a9a").attr("stroke-width",1.1));
  o.ticks[li].forEach(n=>T(g,X(n),y-o.numOff,String(n),{fs:o.fs,anchor:"middle",fill:"#111"}));
  for(let p=st;p<st+seq.length;p++) if(p%10===5) L(g,X(p),y-o.numOff-3,X(p),y-o.numOff,"#555",0.8);
  const inCDR = p=>o.cdr[li].some(([a,b])=>p>=a&&p<=b);
  const mm = new Map(o.mut[li]);
  [...seq].forEach((ch,i)=>{ const p=st+i;
   T(g,X(p),y,ch,{fs:o.fs,anchor:"middle",fill:inCDR(p)?"#777":"#111"});
   T(g,X(p),y+o.wtOff,mm.get(p)||".",{fs:o.fs,anchor:"middle",fill:inCDR(p)?"#777":"#111"});
  });
  o.para[li].forEach(([p,v])=>R(g,X(p)-o.step/2,y+o.paraOff,o.step,o.paraH,paraCol(v),"#b3365f",1));
  if(o.names[li]){ T(g,o.labelX[li],y,o.names[li][0],{fs:11,it:true,anchor:"end"}); T(g,o.labelX[li],y+o.wtOff,o.names[li][1],{fs:11,it:true,anchor:"end"}); }
 });
 return g;
}
const hG = drawSeq({gl:hGL,start:hStart,mut:hMut,cdr:hCDR,para:hPara,ticks:hTicks,names:hNames,labelX:[512,0,506,0],baseY:[1422,1491,1578,1648],x0:539.7,step:9.35,fs:10.5,cdrTop:10.3,cdrH:27.6,wtOff:14,numOff:16,paraOff:20,paraH:15});
(function(){
 const lg = defs.append("linearGradient").attr("id","paragrad");
 lg.append("stop").attr("offset","0%").attr("stop-color","#f9c6c6"); lg.append("stop").attr("offset","100%").attr("stop-color","#ee3124");
 R(hG,533.6,1705,27.5,13.5,"url(#paragrad)","#b3365f",1);
 T(hG,570,1715.5,hLegend[0],{fs:12.5,fill:"#a3175a"});
 hG.append("rect").attr("x",533.6).attr("y",1726).attr("width",28).attr("height",16).attr("rx",4).attr("fill","#e6e6e6").attr("stroke","#9a9a9a");
 T(hG,572.6,1738.5,hLegend[1],{fs:12.5,fill:"#333"});
})();
drawSeq({gl:kGL,start:kStart,mut:kMut,cdr:kCDR,para:kPara,ticks:kTicks,names:kNames,labelX:[505,0,506,0],baseY:[1829.5,1892,2001,2064],x0:526.3,step:8.67,fs:10,cdrTop:9.8,cdrH:24.8,wtOff:13.5,numOff:15,paraOff:17.5,paraH:14});

// ---------------- i / l: KD germline vs mature ----------------
function repel(ys,gap){
 let groups = ys.map(y=>({ys:[y],top:y}));
 let changed = true;
 while(changed){ changed=false;
  groups.forEach(gr=>{ gr.top = d3.mean(gr.ys)-(gr.ys.length-1)*gap/2; });
  for(let i=0;i<groups.length-1;i++){ const a=groups[i], b=groups[i+1];
   if(a.top+a.ys.length*gap>b.top){ a.ys=a.ys.concat(b.ys); groups.splice(i+1,1); changed=true; break; } } }
 groups.forEach(gr=>{ gr.top = d3.mean(gr.ys)-(gr.ys.length-1)*gap/2; });
 const out=[]; groups.forEach(gr=>gr.ys.forEach((yv,j)=>out.push(gr.top+j*gap))); return out;
}
function kdPanel(o){
 const g = svg.append("g");
 const y = d3.scaleLog().domain([Math.pow(10,o.lo),Math.pow(10,o.hi)]).range([o.y0,o.y1]);
 const x = d3.scalePoint().domain(iStages).range([o.gx,o.wx]);
 o.minors.forEach(v=>L(g,o.x0,y(v),o.x1,y(v),"#f3f3f3",0.8));
 o.ticks.forEach(v=>L(g,o.x0,y(v),o.x1,y(v),"#e9e9e9",1.2));
 iStages.forEach(s=>L(g,x(s),o.y0,x(s),o.y1,"#e9e9e9",1.2));
 R(g,o.x0,o.y0,o.x1-o.x0,o.y1-o.y0,"none","#444",1.1);
 o.ticks.forEach((v,i)=>{ L(g,o.x0-3,y(v),o.x0,y(v),"#333",1); T(g,o.x0-5,y(v),o.tickLab[i],{fs:14,anchor:"end",db:"central",fill:"#4d4d4d"}); });
 iStages.forEach(s=>{ L(g,x(s),o.y1,x(s),o.y1+3,"#333",1); s.split("|").forEach((ln,j)=>T(g,x(s),o.labY+j*22,ln,{fs:17,anchor:"middle",db:"central",fill:"#4d4d4d"})); });
 T(g,o.x0+12,o.y0+27,o.title,{fs:20.5,fill:"#000"});
 const kt = g.append("text").attr("transform",`translate(1206,${(o.y0+o.y1)/2}) rotate(-90)`).attr("font-family",SANS).attr("font-size",23).attr("text-anchor","middle");
 kt.append("tspan").attr("font-style","italic").text("K"); kt.append("tspan").attr("dy",5).attr("font-size",15).text("D"); kt.append("tspan").attr("dy",-5).text(" (nM)");
 o.virus.forEach((v,i)=>L(g,x(iStages[0]),y(o.gl[i]),x(iStages[1]),y(o.wt[i]),CLADECOL[o.clade[i]],1.5));
 o.virus.forEach((v,i)=>{ [[iStages[0],o.gl[i]],[iStages[1],o.wt[i]]].forEach(([s,val])=>g.append("circle").attr("cx",x(s)).attr("cy",y(val)).attr("r",o.r).attr("fill",CLADECOL[o.clade[i]])); });
 const order = d3.range(o.virus.length).sort((a,b)=>y(o.wt[a])-y(o.wt[b]));
 const ly = repel(order.map(i=>y(o.wt[i])),o.gap);
 order.forEach((i,k)=>T(g,x(iStages[1])+11,ly[k],o.virus[i],{fs:o.lfs,db:"central",fill:CLADECOL[o.clade[i]]}));
}
kdPanel({x0:1255,x1:1518,y0:1415,y1:1710,lo:-1.53,hi:3.13,gx:1284.3,wx:1399,ticks:iTicks,tickLab:iTicks.map(String),minors:[Math.pow(10,-1.5),Math.pow(10,-0.5),Math.pow(10,0.5),Math.pow(10,1.5),Math.pow(10,2.5)],
 labY:1728,title:iTitle,virus:iVirus,clade:iVirusClade,gl:iKDgl,wt:iKDwt,r:5,gap:14,lfs:15});
kdPanel({x0:1261.7,x1:1465,y0:1832.7,y1:2045,lo:0.09,hi:2.36,gx:1286,wx:1365.7,ticks:lTicks,tickLab:lTicks.map(String),minors:[Math.pow(10,0.25),Math.pow(10,0.75),Math.pow(10,1.25),Math.pow(10,1.75),Math.pow(10,2.25)],
 labY:2063,title:lTitle,virus:lVirus,clade:lVirusClade,gl:lKDgl,wt:lKDwt,r:3.8,gap:15.5,lfs:14});

// ---------------- j: S2E12 neutralization ----------------
(function(){
 const g = svg.append("g");
 const x = d3.scaleLog().domain([0.1,1e5]).range([117.3,303.3]);
 const y = d3.scaleLinear().domain([-50,125]).range([2042,1856]);
 L(g,117.3,y(125),117.3,y(-50),"#111",1.3);
 jYTicks.forEach(v=>{ L(g,112.5,y(v),117.3,y(v),"#111",1.2); T(g,110,y(v),String(v),{fs:13,anchor:"end",db:"central",fill:"#111"}); });
 const ax = 2046.5;
 L(g,117.3,ax,303.3,ax,"#111",1.3);
 for(let e=-1;e<=5;e++){ for(let m=1;m<10;m++){ const v=m*Math.pow(10,e); if(v>1e5) continue; L(g,x(v),ax,x(v),ax+(m===1?5:3),"#111",1); } }
 jXTicks.forEach(e=>P10(g,x(Math.pow(10,e)),2064,e<0?"−"+(-e):String(e),13,{fill:"#111"}));
 L(g,117.3,y(0),288,y(0),"#555",1,"1.5,2.5");
 jConc.forEach((c,i)=>{
  g.append("rect").attr("x",x(c)-3.6).attr("y",y(jWIV16[i])-3.6).attr("width",7.2).attr("height",7.2).attr("fill","#111");
  g.append("circle").attr("cx",x(c)).attr("cy",y(jWIV1[i])).attr("r",3.4).attr("fill","#fff").attr("stroke","#111").attr("stroke-width",1.1);
  g.append("circle").attr("cx",x(c)).attr("cy",y(jSARS1[i])).attr("r",3.6).attr("fill","#111");
 });
 g.append("circle").attr("cx",134).attr("cy",1848).attr("r",3.7).attr("fill","#111");
 T(g,146,1853,jSeries[0],{fs:14.5,fw:"bold",fill:GREEN});
 g.append("circle").attr("cx",252).attr("cy",1836).attr("r",3.6).attr("fill","#fff").attr("stroke","#111").attr("stroke-width",1.1);
 T(g,263,1841,jSeries[1],{fs:14.5,fw:"bold",fill:GREEN});
 g.append("rect").attr("x",248.3).attr("y",1858.3).attr("width",7.4).attr("height",7.4).attr("fill","#111");
 T(g,263,1867,jSeries[2],{fs:14.5,fw:"bold",fill:GREEN});
 T(g,66,1950,"Neutralization (%)",{fs:18,anchor:"middle",rot:-90});
 T(g,212,2088,"S2E12 (ng/mL)",{fs:18.5,anchor:"middle"});
})();
</script>
</body></html>
